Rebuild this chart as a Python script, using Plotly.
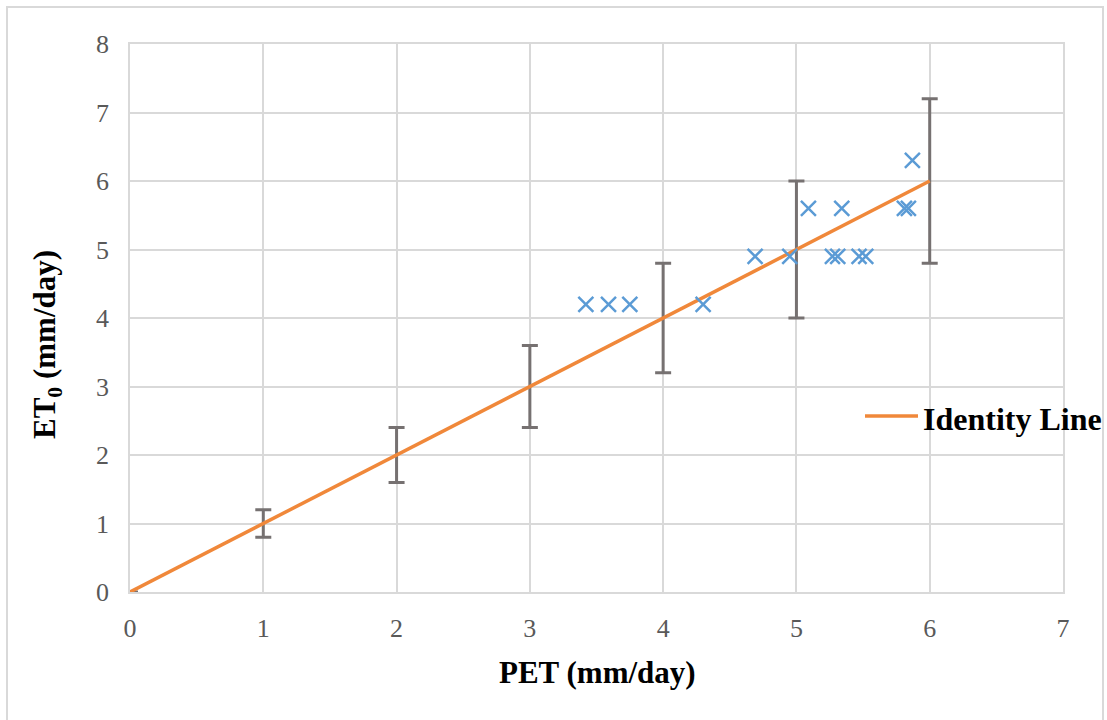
import plotly.graph_objects as go

# Identity line with error bars (±20%)
line_x = [0, 1, 2, 3, 4, 5, 6]
line_y = [0, 1, 2, 3, 4, 5, 6]
line_err = [0, 0.2, 0.4, 0.6, 0.8, 1.0, 1.2]

# Observed points (PET vs ET0)
pet = [3.42, 3.59, 3.75, 4.30, 4.69, 4.95, 5.09, 5.27, 5.31, 5.34, 5.47, 5.52, 5.81, 5.84, 5.87]
et0 = [4.2, 4.2, 4.2, 4.2, 4.9, 4.9, 5.6, 4.9, 4.9, 5.6, 4.9, 4.9, 5.6, 5.6, 6.3]

x_ticks = [0, 1, 2, 3, 4, 5, 6, 7]
y_ticks = [0, 1, 2, 3, 4, 5, 6, 7, 8]

SERIF = "Liberation Serif, Times New Roman, serif"
GRID = "#d9d9d9"
ORANGE = "#F0883A"

fig = go.Figure()
fig.add_trace(go.Scatter(
    x=line_x, y=line_y, mode="lines", name="Identity Line",
    line=dict(color=ORANGE, width=3.5),
    error_y=dict(type="data", array=line_err, visible=True,
                 color="#767171", thickness=3, width=8),
    showlegend=False,
))
fig.add_trace(go.Scatter(
    x=pet, y=et0, mode="markers", name="ET0",
    marker=dict(symbol="x-thin-open", size=15, color="#5B9BD5",
                line=dict(color="#5B9BD5", width=2.5)),
    showlegend=False,
))

W, H = 1107, 720
L, R, T, B = 130, 44, 44, 128
pw, ph = W - L - R, H - T - B

def px_x(p):
    return (p - L) / pw

def px_y(p):
    return (H - B - p) / ph

fig.update_layout(
    width=W, height=H,
    margin=dict(l=L, r=R, t=T, b=B, autoexpand=False),
    paper_bgcolor="white", plot_bgcolor="white",
    font=dict(family=SERIF, color="#595959", size=26),
    showlegend=False,
    xaxis=dict(range=[0, 7], tickvals=x_ticks, showgrid=True, gridcolor=GRID,
               gridwidth=1.5, zeroline=False, showline=True, linecolor=GRID,
               linewidth=1.5, mirror=True, ticks="", fixedrange=True,
               ticklabelstandoff=12,
               tickfont=dict(family=SERIF, size=26, color="#595959")),
    yaxis=dict(range=[0, 8], tickvals=y_ticks, showgrid=True, gridcolor=GRID,
               gridwidth=1.5, zeroline=False, showline=True, linecolor=GRID,
               linewidth=1.5, mirror=True, ticks="", fixedrange=True,
               ticklabelstandoff=14,
               tickfont=dict(family=SERIF, size=26, color="#595959")),
    annotations=[
        dict(text="<b>PET (mm/day)</b>", xref="paper", yref="paper",
             x=px_x(597), y=px_y(672), xanchor="center", yanchor="middle",
             showarrow=False, font=dict(family=SERIF, size=31, color="black")),
        dict(text="<b>ET<sub>0</sub> (mm/day)</b>", xref="paper", yref="paper",
             x=px_x(47), y=px_y(345), xanchor="center", yanchor="middle",
             textangle=-90, showarrow=False,
             font=dict(family=SERIF, size=31, color="black")),
        # legend label
        dict(text="<b>Identity Line</b>", xref="paper", yref="paper",
             x=px_x(921), y=px_y(419), xanchor="left", yanchor="middle",
             showarrow=False, font=dict(family=SERIF, size=32, color="black")),
    ],
    shapes=[
        dict(type="rect", xref="paper", yref="paper",
             x0=px_x(7), x1=px_x(1103), y0=px_y(730), y1=px_y(7),
             line=dict(color=GRID, width=2), layer="below"),
        # legend sample line
        dict(type="line", xref="paper", yref="paper",
             x0=px_x(865), x1=px_x(918), y0=px_y(416), y1=px_y(416),
             line=dict(color=ORANGE, width=3.5)),
    ],
)

fig.write_html("out.html")
